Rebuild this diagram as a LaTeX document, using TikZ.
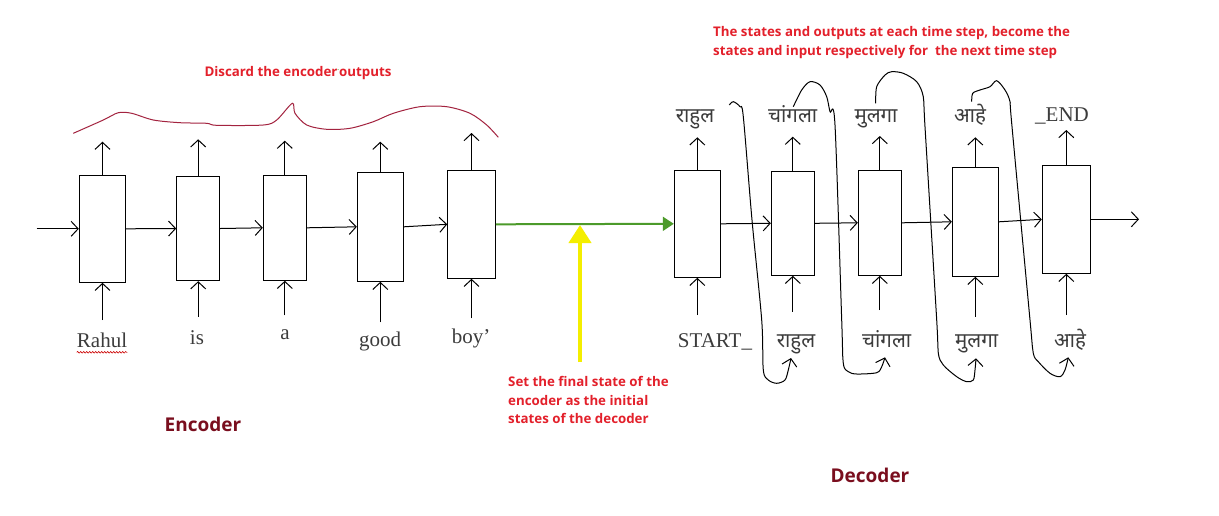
\documentclass[tikz,border=0pt]{standalone}
\usepackage{fontspec}
\setmainfont{Liberation Serif}
\newfontfamily\deva[Script=Devanagari]{Noto Sans}
\newfontfamily\osans{Open Sans}
\usetikzlibrary{arrows.meta,decorations.pathmorphing}
\definecolor{redtxt}{HTML}{E3202B}
\definecolor{darkred}{HTML}{7A0E1E}
\definecolor{curvered}{HTML}{A3233F}
\definecolor{wordgrey}{HTML}{3C3C3C}
\definecolor{arrgreen}{HTML}{4C9A2A}
\definecolor{yel}{HTML}{F4EE00}
\tikzset{
  cell/.style={draw, line width=1pt, inner sep=0pt},
  arr/.style={line width=1pt, -{Straight Barb[length=7pt,width=15pt]}},
  word/.style={font=\fontsize{21}{24}\selectfont, text=wordgrey, inner sep=0pt, anchor=base},
  dword/.style={font=\deva\fontsize{20.5}{24}\selectfont, text=wordgrey, inner sep=0pt, anchor=base},
  redlbl/.style={font=\osans\bfseries\fontsize{13.3}{16}\selectfont, text=redtxt, inner sep=0pt},
  biglbl/.style={font=\osans\bfseries\fontsize{19}{22}\selectfont, text=darkred, inner sep=0pt},
}
\begin{document}
\begin{tikzpicture}[x=1pt,y=-1pt]
\useasboundingbox[fill=white] (0,0) rectangle (1219,515);
% encoder cells
\node[cell, minimum width=46.4pt, minimum height=107pt] (e1) at (102.5,228.8) {};
\node[cell, minimum width=43pt, minimum height=104.4pt] (e2) at (198.2,228.5) {};
\node[cell, minimum width=43pt, minimum height=105pt] (e3) at (284.8,227.8) {};
\node[cell, minimum width=46pt, minimum height=109pt] (e4) at (380.3,226.8) {};
\node[cell, minimum width=47.6pt, minimum height=108pt] (e5) at (471.5,224.3) {};
% decoder cells
\node[cell, minimum width=46pt, minimum height=107pt] (d1) at (697.3,223.8) {};
\node[cell, minimum width=43pt, minimum height=104pt] (d2) at (792.8,223.3) {};
\node[cell, minimum width=43pt, minimum height=105pt] (d3) at (879.8,222.8) {};
\node[cell, minimum width=46pt, minimum height=109pt] (d4) at (975.3,221.8) {};
\node[cell, minimum width=48pt, minimum height=108pt] (d5) at (1066.3,219.3) {};
% horizontal state arrows
\coordinate (ein) at (36.7,228.8);
\coordinate (dout) at (1139,219.3);
\draw[arr] (ein) -- (e1.west);
\draw[arr] (e1.east) -- (e2.west);
\draw[arr] (e2.east) -- (e3.west);
\draw[arr] (e3.east) -- (e4.west);
\draw[arr] (e4.east) -- (e5.west);
\draw[arr] (d1.east) -- (d2.west);
\draw[arr] (d2.east) -- (d3.west);
\draw[arr] (d3.east) -- (d4.west);
\draw[arr] (d4.east) -- (d5.west);
\draw[arr] (d5.east) -- (dout);
% output arrows
\foreach \n/\t in {e1/141.7,e2/139.3,e3/140.7,e4/141.7,e5/133,d1/137.3,d2/136.7,d3/136,d4/137.3,d5/130}
  \draw[arr] (\n.north) -- (\n.north |- 0,\t);
% input arrows
\foreach \n/\b in {e1/320,e2/316.7,e3/315.3,e4/322.3,e5/318.3,d1/315,d2/311.7,d3/310,d4/316.7,d5/315}
  \draw[arr] (\n.south |- 0,\b) -- (\n.south);
% encoder words
\node[word] (w1) at (102,347) {Rahul};
\node[word] (w2) at (197,344) {is};
\node[word] (w3) at (285,339.3) {a};
\node[word] (w4) at (380,346.7) {good};
\node[word] (w5) at (471,343.3) {boy’};
\draw[red!80!black, line width=0.6pt, decorate, decoration={snake, amplitude=0.8pt, segment length=3pt}] (w1.south west |- 0,352.3) -- (w1.south east |- 0,352.3);
% decoder outputs
\node[dword] (o1) at (695,122) {राहुल};
\node[dword] (o2) at (792.7,122) {चांगला};
\node[dword] (o3) at (876,122) {मुलगा};
\node[dword] (o4) at (970,122) {आहे};
\node[word] (o5) at (1062,121) {\_END};
% decoder inputs
\node[word] (i1) at (715,347) {START\_};
\node[dword] (i2) at (796,347) {राहुल};
\node[dword] (i3) at (886.7,347) {चांगला};
\node[dword] (i4) at (976.7,347) {मुलगा};
\node[dword] (i5) at (1070,347) {आहे};
% feedback curves
\draw[arr] plot[smooth, tension=0.5] coordinates {(729.3,105) (733.3,101.7) (740,106.7) (743.3,116.7) (752,220) (761.7,320) (763.3,370) (768.3,380) (776.7,383.3) (785,380) (788.3,370) (791,358)};
\draw[arr] plot[smooth, tension=0.5] coordinates {(793.3,106.7) (801.7,90) (810,81.7) (820,85) (826.7,96.7) (830,111.7) (835,125) (841.7,320) (843.3,363.3) (848.3,371.7) (856.7,374) (876.7,372.7) (881.7,366.7) (885,357.3)};
\draw[arr] plot[smooth, tension=0.5] coordinates {(875.7,103.3) (876.7,86.7) (885,75) (891.7,71.7) (903.3,73.3) (916.7,81.7) (923.3,96.7) (925,126.7) (936.7,320) (938.3,353.3) (943.3,365) (956.7,376.7) (966.7,381.7) (973.3,380) (975,370) (976,358.3)};
\draw[arr] plot[smooth, tension=0.5] coordinates {(971.7,101.7) (972.7,93.3) (980,90) (990,86.7) (996.7,80.7) (1005,90) (1010,101.7) (1011.7,123.3) (1030,320) (1033.3,353.3) (1038.3,361.7) (1050,373.3) (1060,376.7) (1065,370) (1068.3,357.3)};
% discard brace
\draw[curvered, line width=1pt] plot[smooth, tension=0.5] coordinates {(73.3,133.3) (103.3,120) (118.3,112.7) (131.7,113.3) (153.3,120) (180,122.7) (206.7,123.3) (216.7,125.3) (263.3,125) (276.7,120) (292.3,103.3) (295,113.3) (306.7,125) (326.7,129.3) (350,128.3) (373.3,121.7) (393.3,113.3) (420,106.7) (446.7,106.7) (470,113.3) (486.7,125) (498.3,137.3)};
\node[redlbl, anchor=base] (discard) at (298,76) {Discard the encoder\textcolor{arrgreen}{\raisebox{0.45em}{\fontsize{6}{6}\selectfont.}}outputs};
% transfer of final state
\coordinate (ytip) at (580,225);
\coordinate (ybase) at (580,362);
\draw[arrgreen, line width=2pt, -{Triangle[length=11pt,width=14pt]}] (e5.east) -- (d1.west);
\draw[yel, line width=4pt, -{Triangle[length=18pt,width=22pt]}] (ybase) -- (ytip);
\node[redlbl, anchor=base west] (s1) at (508,386.7) {Set the final state of the};
\node[redlbl, anchor=base west] (s2) at (508,405) {encoder as the initial};
\node[redlbl, anchor=base west] (s3) at (508,423.3) {states of the decoder};
% top note
\node[redlbl, anchor=base west] (t1) at (713,36) {The states and outputs at each time step, become the};
\node[redlbl, anchor=base west] (t2) at (713,55) {states and input respectively for \ the next time step};
% titles
\node[biglbl] (enc) at (203,424) {Encoder};
\node[biglbl] (dec) at (870,475) {Decoder};
\end{tikzpicture}
\end{document}
